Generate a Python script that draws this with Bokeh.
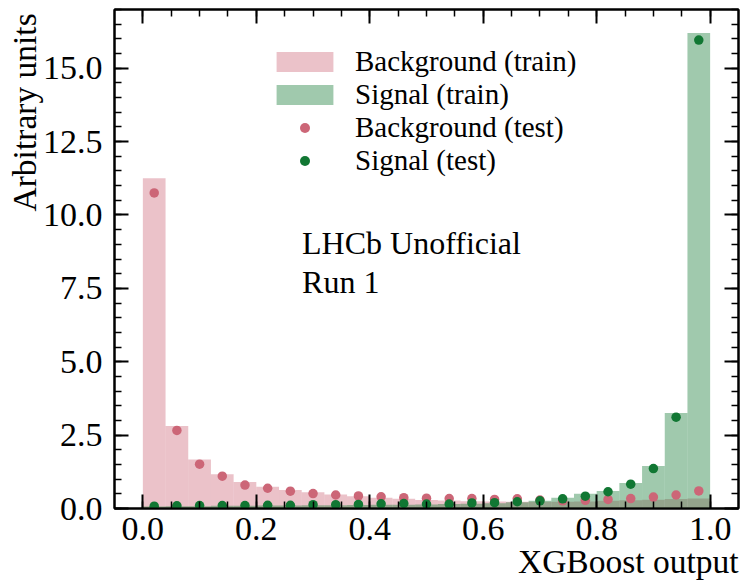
import numpy as np
from bokeh.plotting import figure
from bokeh.models import Range1d, FixedTicker, LinearAxis, Legend, LegendItem, Label
from bokeh.embed import file_html
from bokeh.resources import INLINE

# ---------------- data ----------------
bin_lo = [0.00, 0.04, 0.08, 0.12, 0.16, 0.20, 0.24, 0.28, 0.32, 0.36, 0.40, 0.44, 0.48,
          0.52, 0.56, 0.60, 0.64, 0.68, 0.72, 0.76, 0.80, 0.84, 0.88, 0.92, 0.96]
bin_hi = [0.04, 0.08, 0.12, 0.16, 0.20, 0.24, 0.28, 0.32, 0.36, 0.40, 0.44, 0.48, 0.52,
          0.56, 0.60, 0.64, 0.68, 0.72, 0.76, 0.80, 0.84, 0.88, 0.92, 0.96, 1.00]
bin_center = [0.02, 0.06, 0.10, 0.14, 0.18, 0.22, 0.26, 0.30, 0.34, 0.38, 0.42, 0.46, 0.50,
              0.54, 0.58, 0.62, 0.66, 0.70, 0.74, 0.78, 0.82, 0.86, 0.90, 0.94, 0.98]

bkg_train = [11.25, 2.81, 1.67, 1.17, 0.90, 0.74, 0.63, 0.55, 0.48, 0.42, 0.37, 0.33, 0.29,
             0.27, 0.25, 0.24, 0.23, 0.23, 0.23, 0.24, 0.26, 0.28, 0.30, 0.32, 0.34]
sig_train = [0.07, 0.08, 0.08, 0.09, 0.09, 0.10, 0.10, 0.11, 0.11, 0.12, 0.13, 0.13, 0.14,
             0.15, 0.16, 0.18, 0.21, 0.26, 0.37, 0.50, 0.60, 0.87, 1.45, 3.25, 16.20]
bkg_test = [10.75, 2.66, 1.51, 1.10, 0.80, 0.69, 0.59, 0.51, 0.46, 0.43, 0.40, 0.37, 0.35,
            0.34, 0.34, 0.31, 0.33, 0.29, 0.26, 0.28, 0.31, 0.34, 0.39, 0.46, 0.60]
sig_test = [0.08, 0.09, 0.10, 0.10, 0.10, 0.11, 0.11, 0.13, 0.13, 0.14, 0.16, 0.17, 0.15,
            0.15, 0.19, 0.20, 0.23, 0.26, 0.33, 0.42, 0.57, 0.83, 1.36, 3.11, 15.96]

x_ticks = [0.0, 0.2, 0.4, 0.6, 0.8, 1.0]
x_tick_labels = ["0.0", "0.2", "0.4", "0.6", "0.8", "1.0"]
y_ticks = [0.0, 2.5, 5.0, 7.5, 10.0, 12.5, 15.0]
y_tick_labels = ["0.0", "2.5", "5.0", "7.5", "10.0", "12.5", "15.0"]

x_label = "XGBoost output"
y_label = "Arbitrary units"
legend_labels = ["Background (train)", "Signal (train)", "Background (test)", "Signal (test)"]
annot_lines = ["LHCb Unofficial", "Run 1"]

BKG = "#CC6677"
SIG = "#117733"
FONT = "Liberation Serif"

X_LO, X_HI = -0.05, 1.05
Y_LO, Y_HI = 0.0, 17.0

# ---------------- figure ----------------
p = figure(width=740, height=581, output_backend="svg", toolbar_location=None,
           x_range=Range1d(X_LO, X_HI), y_range=Range1d(Y_LO, Y_HI),
           min_border_left=114, min_border_right=2, min_border_top=9, min_border_bottom=73)
p.xgrid.visible = False
p.ygrid.visible = False
p.background_fill_color = "white"
p.border_fill_color = "white"
p.outline_line_color = "black"
p.outline_line_width = 2

x_minor = [round(v, 2) for v in np.arange(0.0, 1.0001, 0.05)]
y_minor = [round(v, 2) for v in np.arange(0.0, 17.0001, 0.5)]
xticker = FixedTicker(ticks=x_ticks, minor_ticks=x_minor)
yticker = FixedTicker(ticks=y_ticks, minor_ticks=y_minor)


def style_axis(ax, show_labels):
    ax.axis_line_color = "black"
    ax.axis_line_width = 2
    ax.major_tick_in = 14
    ax.major_tick_out = 0
    ax.minor_tick_in = 7
    ax.minor_tick_out = 0
    ax.major_tick_line_width = 2
    ax.minor_tick_line_width = 1.5
    ax.major_tick_line_color = "black"
    ax.minor_tick_line_color = "black"
    if show_labels:
        ax.major_label_text_font = FONT
        ax.major_label_text_font_size = "34px"
        ax.major_label_text_color = "black"
    else:
        ax.major_label_text_font_size = "0px"
        ax.major_label_standoff = 0


p.xaxis.ticker = xticker
p.yaxis.ticker = yticker
p.xaxis.major_label_overrides = {t: l for t, l in zip(x_ticks, x_tick_labels)}
p.yaxis.major_label_overrides = {t: l for t, l in zip(y_ticks, y_tick_labels)}
for ax in p.xaxis + p.yaxis:
    style_axis(ax, True)
p.xaxis.major_label_standoff = 9
p.yaxis.major_label_standoff = 12

top_ax = LinearAxis(ticker=xticker)
top_ax.major_label_overrides = {t: "" for t in x_ticks}
style_axis(top_ax, False)
p.add_layout(top_ax, "above")
right_ax = LinearAxis(ticker=yticker)
right_ax.major_label_overrides = {t: "" for t in y_ticks}
style_axis(right_ax, False)
p.add_layout(right_ax, "right")

# ---------------- glyphs ----------------
r_bt = p.quad(left=bin_lo, right=bin_hi, bottom=0, top=bkg_train,
              fill_color=BKG, fill_alpha=0.4, line_color=None)
r_st = p.quad(left=bin_lo, right=bin_hi, bottom=0, top=sig_train,
              fill_color=SIG, fill_alpha=0.4, line_color=None)

r_bdot = p.scatter(x=bin_center, y=bkg_test, marker="circle", size=9.5,
                   fill_color=BKG, line_color=None)
r_sdot = p.scatter(x=bin_center, y=sig_test, marker="circle", size=9.5,
                   fill_color=SIG, line_color=None)

legend = Legend(items=[
    LegendItem(label=legend_labels[0], renderers=[r_bt]),
    LegendItem(label=legend_labels[1], renderers=[r_st]),
    LegendItem(label=legend_labels[2], renderers=[r_bdot]),
    LegendItem(label=legend_labels[3], renderers=[r_sdot]),
], location=(155, 331))
legend.glyph_width = 71
legend.glyph_height = 25
legend.label_standoff = 15
legend.spacing = 0
legend.padding = 0
legend.margin = 0
legend.border_line_color = None
legend.background_fill_alpha = 0
legend.label_text_font = FONT
legend.label_text_font_size = "29px"
legend.label_text_color = "black"
p.add_layout(legend, "center")

# ---------------- texts ----------------
p.add_layout(Label(x=0.2806, y=9.05, text=annot_lines[0], text_font=FONT,
                   text_font_size="32px", text_color="black", text_baseline="alphabetic"))
p.add_layout(Label(x=0.2806, y=7.73, text=annot_lines[1], text_font=FONT,
                   text_font_size="32px", text_color="black", text_baseline="alphabetic"))

# axis titles, placed in the side panels (outside the frame): right/top aligned
p.add_layout(Label(x=X_HI, y=-1.80, text=x_label, text_font=FONT,
                   text_font_size="33.5px", text_color="black",
                   text_align="right", text_baseline="alphabetic"), "below")
p.add_layout(Label(x=-0.2078, y=16.87, text=y_label, angle=np.pi / 2, text_font=FONT,
                   text_font_size="33.5px", text_color="black",
                   text_align="right", text_baseline="alphabetic"), "left")

open("out.html", "w").write(file_html(p, INLINE))
